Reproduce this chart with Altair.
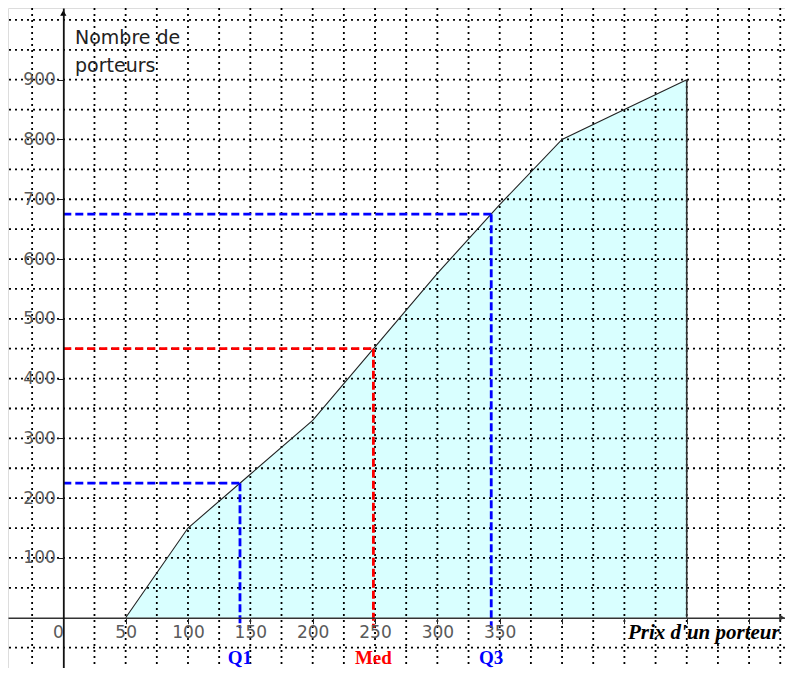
import altair as alt
import pandas as pd

# ---- data ----
prix = [50, 100, 150, 200, 250, 300, 350, 400, 450, 500]
cumul = [0, 150, 240, 330, 453, 576, 691, 800, 850, 900]

q_names = ["Q1", "Med", "Q3"]
q_x = [141.7, 248.7, 343.2]
q_y = [225, 450, 675]
q_colors = ["#0000FF", "#FF0000", "#0000FF"]

x_ticks = [0, 50, 100, 150, 200, 250, 300, 350, 400, 450, 500, 550]
y_ticks = [100, 200, 300, 400, 500, 600, 700, 800, 900]
grid_x = [-25, 25, 50, 75, 100, 125, 150, 175, 200, 225, 250, 275, 300, 325,
          350, 375, 400, 425, 450, 475, 500, 525, 550, 575]
grid_y = [-50, 50, 100, 150, 200, 250, 300, 350, 400, 450, 500, 550, 600,
          650, 700, 750, 800, 850, 900, 950, 1000]

y_title = "Nombre de\nporteurs"
x_title = "Prix  d'un porteur"

curve_df = pd.DataFrame({"prix": prix, "cumul": cumul})
q_df = pd.DataFrame({"nom": q_names, "qx": q_x, "qy": q_y, "couleur": q_colors})
gx_df = pd.DataFrame({"gx": grid_x})
gy_df = pd.DataFrame({"gy": grid_y})
last_df = curve_df.tail(1)
ytitle_df = pd.DataFrame({"t": [y_title]})
xtitle_df = pd.DataFrame({"t": [x_title]})

W, H = 777, 660
xs = alt.Scale(domain=[-44.35, 578.8], nice=False, zero=False)
ys = alt.Scale(domain=[-84.1, 1019.9], nice=False, zero=False)

label_color = "#5a5a5a"

x_axis = alt.Axis(values=x_ticks, orient="bottom", offset=-50.3, title=None, grid=False,
                  labelExpr="datum.value <= 350 ? datum.label : ''",
                  labelAlign={"condition": {"test": "datum.value == 0", "value": "right"}, "value": "center"},
                  domainColor="#333333", domainWidth=1.6, tickColor="#222222", tickSize=6,
                  labelFont="DejaVu Sans", labelFontSize=17, labelColor=label_color,
                  labelPadding=1, zindex=1, labelFlush=False, labelOverlap=False)
y_axis = alt.Axis(values=y_ticks, orient="left", offset=-55.3, title=None, grid=False,
                  domainColor="#111111", domainWidth=1.8, tickColor="#222222", tickSize=6,
                  labelFont="DejaVu Sans", labelFontSize=17, labelColor=label_color,
                  labelPadding=2, zindex=1, labelFlush=False, labelOverlap=False)

area = alt.Chart(curve_df).mark_area(color="#D9FFFF").encode(
    x=alt.X("prix:Q", scale=xs, axis=x_axis),
    y=alt.Y("cumul:Q", scale=ys, axis=y_axis),
    y2=alt.datum(0),
)

grid_v = alt.Chart(gx_df).mark_rule(color="#000000", strokeWidth=1.8, strokeDash=[2, 4]).encode(
    x=alt.X("gx:Q", scale=xs)
)
grid_h = alt.Chart(gy_df).mark_rule(color="#000000", strokeWidth=1.8, strokeDash=[2, 4]).encode(
    y=alt.Y("gy:Q", scale=ys)
)

line = alt.Chart(curve_df).mark_line(color="#222222", strokeWidth=1.1).encode(
    x=alt.X("prix:Q", scale=xs),
    y=alt.Y("cumul:Q", scale=ys),
)

edge = alt.Chart(last_df).mark_rule(color="#333333", strokeWidth=1.6).encode(
    x=alt.X("prix:Q", scale=xs),
    y=alt.Y("cumul:Q", scale=ys),
    y2=alt.datum(0),
)

q_h = alt.Chart(q_df).mark_rule(strokeWidth=2.8, strokeDash=[8, 4]).encode(
    x=alt.X("zero:Q", scale=xs),
    x2="qx:Q",
    y=alt.Y("qy:Q", scale=ys),
    color=alt.Color("couleur:N", scale=None),
).transform_calculate(zero="0")

q_v = alt.Chart(q_df).mark_rule(strokeWidth=2.8, strokeDash=[8, 3]).encode(
    x=alt.X("qx:Q", scale=xs),
    y=alt.Y("qy:Q", scale=ys),
    y2=alt.Y2("bas:Q"),
    color=alt.Color("couleur:N", scale=None),
).transform_calculate(bas="-17")

q_text = alt.Chart(q_df).mark_text(font="Liberation Serif", fontWeight="bold", fontSize=19,
                                   baseline="middle", align="center").encode(
    x=alt.X("qx:Q", scale=xs),
    y=alt.value(650),
    text="nom:N",
    color=alt.Color("couleur:N", scale=None),
)

ytitle = alt.Chart(ytitle_df).mark_text(font="DejaVu Sans", fontSize=19, align="left",
                                        baseline="top", lineBreak="\n", lineHeight=28,
                                        color="#222222").encode(
    x=alt.value(67), y=alt.value(21), text="t:N"
)

xtitle = alt.Chart(xtitle_df).mark_text(font="Liberation Serif", fontWeight="bold",
                                        fontStyle="italic", fontSize=21, align="left",
                                        baseline="middle", color="#000000").encode(
    x=alt.value(620), y=alt.value(625), text="t:N"
)

arrow_up = alt.Chart(last_df).mark_point(shape="triangle-up", filled=True, color="#000000",
                                         size=40, opacity=1).encode(
    x=alt.value(55.3), y=alt.value(5)
)
arrow_right = alt.Chart(last_df).mark_point(shape="triangle-right", filled=True, color="#333333",
                                            size=40, opacity=1).encode(
    x=alt.value(774), y=alt.value(609.7)
)

chart = alt.layer(
    area, grid_v, grid_h, line, edge, q_h, q_v, q_text, ytitle, xtitle, arrow_up, arrow_right
).properties(
    width=W, height=H, padding=0, autosize="none"
).configure_view(strokeWidth=0).configure(background="white")

chart.save("out.html", embed_options={"renderer": "svg", "actions": False})
